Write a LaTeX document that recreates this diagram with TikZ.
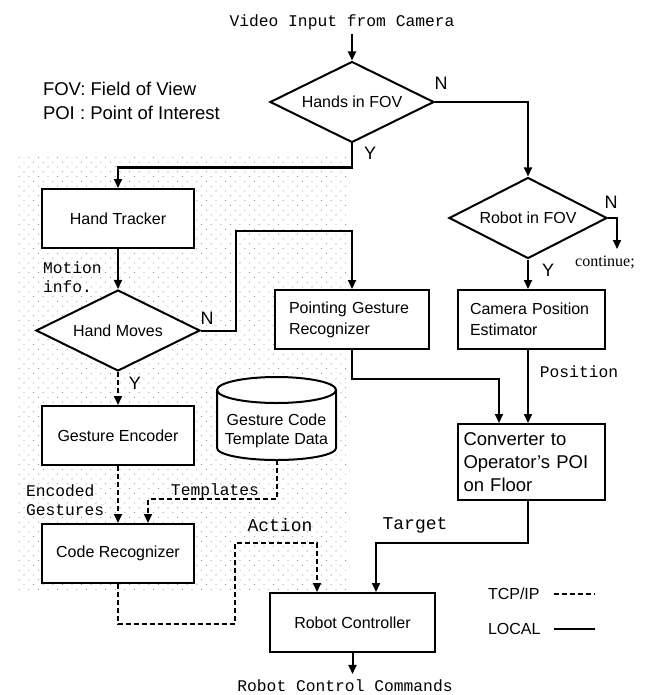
\documentclass[tikz,border=0pt]{standalone}
\usepackage{fontspec}
\setmainfont{Liberation Sans}
\setmonofont{Liberation Mono}
\newfontfamily\contfont{Liberation Serif}
\usetikzlibrary{shapes.geometric}
\usetikzlibrary{arrows.meta}
\usetikzlibrary{patterns}
\pgfdeclarepatternformonly{gesture dots}{\pgfqpoint{-1pt}{-1pt}}{\pgfqpoint{5.8pt}{5.8pt}}{\pgfqpoint{9.6pt}{9.6pt}}{%
  \pgfpathcircle{\pgfqpoint{0pt}{0pt}}{0.55pt}%
  \pgfpathcircle{\pgfqpoint{4.8pt}{4.8pt}}{0.55pt}%
  \pgfusepath{fill}}

\begin{document}
\begin{tikzpicture}[x=1pt,y=1pt,line width=2pt,>={Triangle[length=9pt,width=8pt]},
  box/.style={draw,fill=white,minimum width=152pt,minimum height=59pt,inner sep=0pt,font=\fontsize{16}{21}\selectfont},
  decide/.style={diamond,draw,fill=white,aspect=2,inner sep=0pt,minimum width=164pt,minimum height=81pt,font=\fontsize{16}{20}\selectfont},
  tty/.style={font=\ttfamily\fontsize{16.3}{19}\selectfont,inner sep=0pt},
  bigtty/.style={font=\ttfamily\fontsize{18}{20}\selectfont,inner sep=0pt},
  yn/.style={font=\fontsize{18}{20}\selectfont,inner sep=0pt},
  key/.style={font=\fontsize{16}{18}\selectfont,inner sep=0pt,anchor=west},
  tcp/.style={dash pattern=on 5pt off 3pt}]
  \useasboundingbox (0,0) rectangle (648,-695);
  \fill[pattern=gesture dots,pattern color=black!45] (15,-155) rectangle (350,-589);

  \node[tty,inner sep=3pt] (vid) at (342,-22) {Video Input from Camera};
  \node[font=\fontsize{18.5}{24}\selectfont,align=left,anchor=west,inner sep=0pt] (abbr) at (42,-101) {FOV: Field of View\\POI : Point of Interest};
  \node[decide] (hands) at (352,-102) {Hands in FOV};
  \node[decide,minimum width=158pt] (robot) at (528,-218) {Robot in FOV};
  \node[box] (tracker) at (118,-218.5) {Hand Tracker};
  \node[decide] (moves) at (118,-330.5) {Hand Moves};
  \node[box,minimum width=154pt,text width=126pt,inner xsep=14pt,align=left] (pointing) at (352,-319.5) {Pointing Gesture\\Recognizer};
  \node[box,minimum width=147pt,text width=122pt,inner xsep=12.5pt,align=left] (cam) at (531,-319.5) {Camera Position\\Estimator};
  \node[box] (enc) at (118,-435.5) {Gesture Encoder};
  \node[box] (code) at (118,-553.5) {Code Recognizer};
  \node[box,minimum width=147pt,minimum height=76pt,text width=135pt,inner xsep=6pt,align=left,font=\fontsize{18.5}{23}\selectfont] (conv) at (531,-462) {Converter to\\Operator's POI\\on Floor};
  \node[box,minimum width=165pt] (ctrl) at (352.5,-622.5) {Robot Controller};

  \coordinate (gc) at (276.5,-430.5);
  \coordinate (gbot) at (276.5,-460);
  \draw[fill=white] ([shift={(-59.5,40.5)}]gc) -- ++(0,-58) arc[start angle=180,end angle=360,x radius=59.5,y radius=12] -- ++(0,58) arc[start angle=0,end angle=180,x radius=59.5,y radius=13] -- cycle;
  \draw ([shift={(-59.5,40.5)}]gc) arc[start angle=180,end angle=360,x radius=59.5,y radius=13];
  \node[font=\fontsize{16}{19}\selectfont,align=center,inner sep=0pt] (gdata) at (gc) {Gesture Code\\Template Data};

  \node[yn] (n1) at (441,-83) {N};
  \node[yn] (y1) at (370,-153) {Y};
  \node[yn] (n2) at (207,-318) {N};
  \node[yn] (y2) at (135,-383) {Y};
  \node[yn] (n3) at (611,-202) {N};
  \node[yn] (y3) at (548,-270) {Y};
  \node[font=\contfont\fontsize{16}{18}\selectfont,inner sep=0pt] (cont) at (605,-262) {continue;};
  \coordinate (contend) at (617,-249);

  \node[tty,align=left,anchor=west] (motion) at (42,-277.5) {Motion\\info.};
  \node[tty] (position) at (579,-372) {Position};
  \node[bigtty] (target) at (415,-525) {Target};
  \node[bigtty] (action) at (280,-525) {Action};
  \node[tty] (templates) at (215,-491) {Templates};
  \node[tty,align=left,anchor=west] (encoded) at (25,-500) {Encoded\\Gestures};
  \node[tty] (cmd) at (345,-686) {Robot Control Commands};

  \draw[->] (hands.north |- vid.south) -- (hands.north);
  \draw[->] (hands.south) -- ++(0,-24) -| (tracker.north);
  \draw[->] (hands.east) -| (robot.north);
  \draw[->] (robot.east) -| (contend);
  \draw[->] (robot.south) -- (robot.south |- cam.north);
  \draw[->] (cam.south -| robot.south) -- (robot.south |- conv.north);
  \draw[->] (pointing.south) -- ++(0,-29) -| ([xshift=-32pt]conv.north);
  \draw[->] (conv.south -| robot.south) -- ++(0,-42) -| ([xshift=23.5pt]ctrl.north);
  \draw[->,shorten >=5pt] (ctrl.south) -- (ctrl.south |- cmd.north);
  \draw[->] (tracker) -- (moves);
  \draw[->] (moves.east) -- ++(35,0) -- ++(0,100) -| (pointing.north);
  \draw[->,tcp] (moves) -- (enc);
  \draw[->,tcp] (enc) -- (code);
  \draw[->,tcp] (gbot) -- ++(0,-39) -| ([xshift=30pt]code.north);
  \draw[->,tcp] (code.south) -- ++(0,-40) -| ++(117,81) -| ([xshift=-35.5pt]ctrl.north);

  \node[key] (tcpkey) at (487,-594) {TCP/IP};
  \node[key] (localkey) at (487,-629) {LOCAL};
  \draw[tcp] ([xshift=13pt]tcpkey.east) -- ++(41,0);
  \draw ([xshift=13pt]localkey.east) -- ++(41,0);
\end{tikzpicture}
\end{document}
